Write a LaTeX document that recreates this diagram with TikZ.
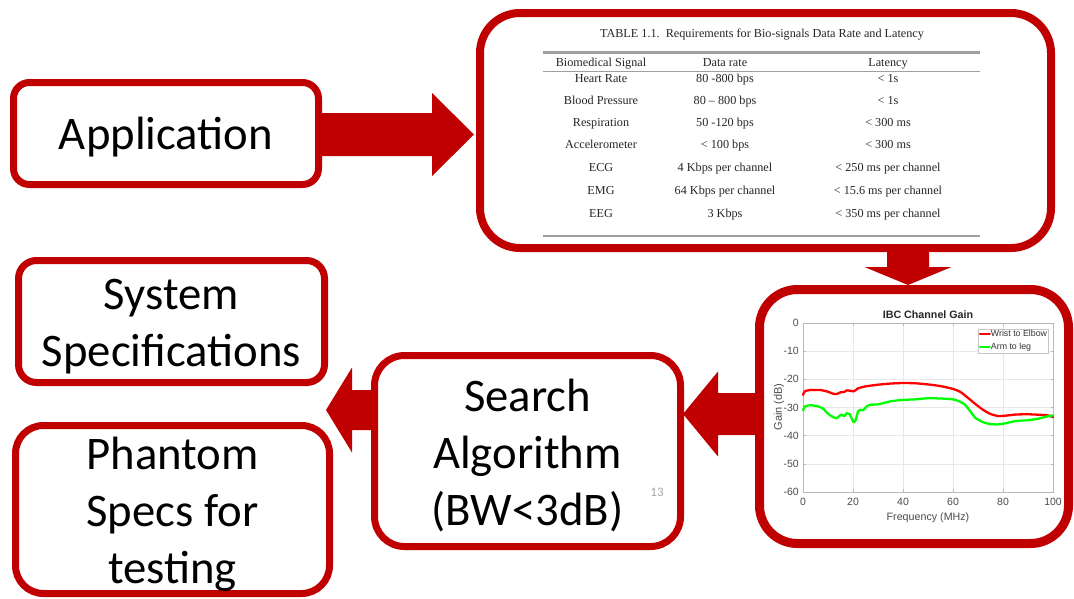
\documentclass[tikz,border=0pt]{standalone}
\usepackage{fontspec}
\setmainfont{Carlito}
\newfontfamily\tabfont{Liberation Serif}
\newfontfamily\plotfont{Liberation Sans}
\usetikzlibrary{calc}
\definecolor{dred}{HTML}{C00000}
\definecolor{pgreen}{HTML}{00FF00}
\definecolor{pred}{HTML}{FF0000}
\tikzset{
  box/.style={draw=dred, fill=white, line width=7pt, inner sep=0pt},
  boxtext/.style={inner sep=0pt, align=center, font=\fontsize{46.7}{57}\selectfont},
  blockarrow/.style={fill=dred, draw=none},
  tabtxt/.style={font=\tabfont\fontsize{12.2}{14}\selectfont, text=black!85, inner sep=0pt,
    text height=8.5pt, text depth=2.5pt},
  tabrule/.style={draw=gray!75},
  ticklbl/.style={font=\plotfont\fontsize{10.5}{12}\selectfont, text=black!70, inner sep=0pt},
  gridline/.style={draw=gray!18, line width=0.6pt},
  curve/.style={line width=2.3pt, line join=round, line cap=round}
}
\begin{document}
\begin{tikzpicture}[x=1pt, y=-1pt]
\useasboundingbox (0,0) rectangle (1074,598);
\fill[white] (0,0) rectangle (1074,598);

% ---------- box positions ----------
\path (166,133.5) coordinate (appc)
      (765.5,130.5) coordinate (tabc)
      (914,416.5) coordinate (chc)
      (527.5,451) coordinate (srchc)
      (171.5,321.5) coordinate (sysc)
      (172.5,509.5) coordinate (phc);

% invisible nodes first to anchor the arrows
\node[box, draw=none, fill=none, minimum width=305pt, minimum height=102pt] (app) at (appc) {};
\node[box, draw=none, fill=none, line width=8pt, minimum width=571pt, minimum height=235pt] (tab) at (tabc) {};
\node[box, draw=none, fill=none, line width=9pt, minimum width=309pt, minimum height=254pt] (chart) at (chc) {};
\node[box, draw=none, fill=none, minimum width=306pt, minimum height=191pt] (search) at (srchc) {};

% ---------- block arrows ----------
% Application -> table
\coordinate (a1tip) at ($(tab.west |- app.east)+(-2,1)$);
\fill[blockarrow] ($(app.east)+(-4,-20.5)$) -- ($(a1tip)+(-42,-21.5)$) -- ($(a1tip)+(-42,-41.5)$)
  -- (a1tip) -- ($(a1tip)+(-42,41.5)$) -- ($(a1tip)+(-42,21.5)$) -- ($(app.east)+(-4,22.5)$) -- cycle;
% table -> chart
\coordinate (a2tip) at ($(chart.north)+(-6,0)$);
\fill[blockarrow] ($(a2tip |- tab.south)+(-21,-6)$) -- ($(a2tip)+(-21,-18)$) -- ($(a2tip)+(-43.5,-18)$)
  -- (a2tip) -- ($(a2tip)+(43.5,-18)$) -- ($(a2tip)+(21,-18)$) -- ($(a2tip |- tab.south)+(21,-6)$) -- cycle;
% chart -> search
\coordinate (a3tip) at ($(search.east |- chart.west)+(-1,-2.5)$);
\fill[blockarrow] ($(chart.west)+(6,-23.5)$) -- ($(a3tip)+(35,-21)$) -- ($(a3tip)+(35,-42.5)$)
  -- (a3tip) -- ($(a3tip)+(35,42.5)$) -- ($(a3tip)+(35,21)$) -- ($(chart.west)+(6,18.5)$) -- cycle;
% search -> outputs
\coordinate (a4tip) at ($(search.west)+(-45,-41)$);
\fill[blockarrow] ($(search.west)+(6,-61)$) -- ($(a4tip)+(26,-20)$) -- ($(a4tip)+(26,-42.5)$)
  -- (a4tip) -- ($(a4tip)+(26,42.5)$) -- ($(a4tip)+(26,20)$) -- ($(search.west)+(6,-21)$) -- cycle;

% ---------- visible boxes ----------
\node[box, rounded corners=16pt, minimum width=305pt, minimum height=102pt] (appbox) at (appc) {};
\node[box, line width=8pt, rounded corners=40pt, minimum width=571pt, minimum height=235pt] (tabbox) at (tabc) {};
\node[box, line width=9pt, rounded corners=38pt, minimum width=309pt, minimum height=254pt] (chartbox) at (chc) {};
\node[box, rounded corners=30pt, minimum width=306pt, minimum height=191pt] (searchbox) at (srchc) {};
\node[box, rounded corners=18pt, minimum width=306pt, minimum height=122pt] (sys) at (sysc) {};
\node[box, rounded corners=28pt, minimum width=314pt, minimum height=168pt] (ph) at (phc) {};

\node[boxtext] (apptxt) at ($(appbox.center)+(0,4)$) {Application};
\node[boxtext] (searchtxt) at ($(searchbox.center)+(0,5)$) {Search\\Algorithm\\(BW<3dB)};
\node[boxtext] (systxt) at ($(sys.center)+(0,5)$) {System\\Specifications};
\node[boxtext] (phtxt) at ($(ph.center)+(0,5)$) {Phantom\\Specs for\\testing};
\node[font=\fontsize{13}{15}\selectfont, text=gray!70, inner sep=0pt] (pgno) at (657,492) {13};

% ---------- table ----------
\node[tabtxt] (ttitle) at (762,34) {TABLE 1.1.\ \ Requirements for Bio-signals Data Rate and Latency};
\draw[tabrule, line width=2.6pt] (543,52.5) -- (980,52.5);
\draw[tabrule, line width=1.5pt] (543,71.5) -- (980,71.5);
\draw[tabrule, line width=2.6pt] (543,236) -- (980,236);
\node[tabtxt] (h1) at (601,63) {Biomedical Signal};
\node[tabtxt] (h2) at (725,63) {Data rate};
\node[tabtxt] (h3) at (888,63) {Latency};
\foreach \yy/\ca/\cb/\cc [count=\i] in {
   79.5/Heart Rate/80 -800 bps/< 1s,
   101/Blood Pressure/80 – 800 bps/< 1s,
   123/Respiration/50 -120 bps/< 300 ms,
   145.5/Accelerometer/< 100 bps/< 300 ms,
   168.5/ECG/4 Kbps per channel/< 250 ms per channel,
   191.5/EMG/64 Kbps per channel/< 15.6 ms per channel,
   214.5/EEG/3 Kbps/< 350 ms per channel}{
  \node[tabtxt] (r\i a) at (601,\yy) {\ca};
  \node[tabtxt] (r\i b) at (725,\yy) {\cb};
  \node[tabtxt] (r\i c) at (888,\yy) {\cc};
}

% ---------- chart ----------
\node[font=\plotfont\bfseries\fontsize{10.7}{12}\selectfont, text=black!85, inner sep=0pt] (ctitle) at (928,315) {IBC Channel Gain};
\begin{scope}[shift={(803pt,-323pt)}, x=2.5pt, y=2.8167pt]
  \foreach \f in {20,40,60,80} \draw[gridline] (\f,0) -- (\f,-60);
  \foreach \g in {-10,-20,-30,-40,-50} \draw[gridline] (0,\g) -- (100,\g);
  \draw[draw=gray!55, line width=0.7pt] (0,0) rectangle (100,-60);
  \foreach \f in {0,20,40,60,80,100} {
    \draw[draw=gray!55, line width=0.6pt] (\f,-60) -- ++(0,1.1);
    \draw[draw=gray!55, line width=0.6pt] (\f,0) -- ++(0,-1.1);
    \node[ticklbl] at (\f,-63.5) {\f};
  }
  \foreach \g in {0,-10,-20,-30,-40,-50,-60} {
    \draw[draw=gray!55, line width=0.6pt] (0,\g) -- ++(1,0);
    \draw[draw=gray!55, line width=0.6pt] (100,\g) -- ++(-1,0);
    \node[ticklbl, anchor=east] at (-1.6,\g) {\g};
  }
  \draw[curve, pred] plot[smooth, tension=0.35] coordinates {
    (0,-25.5) (0.8,-24.2) (3,-23.8) (7,-23.8) (10,-24.4) (12,-25.1) (13.5,-25.2) (15,-24.6)
    (16.5,-24.5) (17.5,-23.9) (19,-24.1) (20.5,-24.2) (22,-23.2) (25,-22.5) (30,-21.9)
    (35,-21.5) (40,-21.3) (45,-21.4) (50,-21.8) (55,-22.4) (60,-23.4) (63,-24.5)
    (66,-26.6) (69,-28.8) (72,-30.8) (75,-32.3) (78,-33.0) (81,-32.9) (85,-32.5)
    (90,-32.4) (95,-32.6) (98,-32.8) (100,-33.4)};
  \draw[curve, pgreen] plot[smooth, tension=0.35] coordinates {
    (0,-31) (0.8,-29.6) (3,-29.2) (6,-29.6) (8,-30.4) (10,-32.2) (12,-33.4) (13.5,-33.8)
    (14.5,-33.0) (15.5,-32.5) (16.5,-33.1) (17.5,-32.0) (18.5,-32.3) (19.3,-33.5) (20.2,-35.2)
    (21,-34.6) (22,-31.5) (23,-30.8) (24,-31) (25.5,-29.6) (27,-29.0) (30,-28.9) (35,-27.8)
    (40,-27.3) (45,-27.1) (50,-26.7) (55,-26.8) (60,-27.1) (63,-28.0) (65,-29.2)
    (67,-31.5) (69,-33.7) (72,-35.2) (75,-35.9) (78,-36.0) (81,-35.6) (85,-34.8)
    (90,-34.5) (94,-34.0) (97,-33.3) (100,-32.8)};
\end{scope}
\node[ticklbl, rotate=90, font=\plotfont\fontsize{11}{12}\selectfont] (ylab) at (779,407) {Gain (dB)};
\node[ticklbl, font=\plotfont\fontsize{10.7}{12}\selectfont] (xlab) at (928,518) {Frequency (MHz)};
% legend
\node[draw=gray!45, fill=white, line width=0.5pt, minimum width=70pt, minimum height=24pt, inner sep=0pt] (leg) at (1013,341) {};
\coordinate (l1) at ($(leg.west)+(2,-7.5)$);
\coordinate (l2) at ($(leg.west)+(2,6)$);
\draw[curve, pred, line width=2pt] (l1) -- ++(10,0);
\draw[curve, pgreen, line width=2pt] (l2) -- ++(10,0);
\node[anchor=west, inner sep=0pt, font=\plotfont\fontsize{8.8}{10}\selectfont, text=black!80] (lt1) at ($(l1)+(11,0)$) {Wrist to Elbow};
\node[anchor=west, inner sep=0pt, font=\plotfont\fontsize{8.8}{10}\selectfont, text=black!80] (lt2) at ($(l2)+(11,0)$) {Arm to leg};
\end{tikzpicture}
\end{document}
